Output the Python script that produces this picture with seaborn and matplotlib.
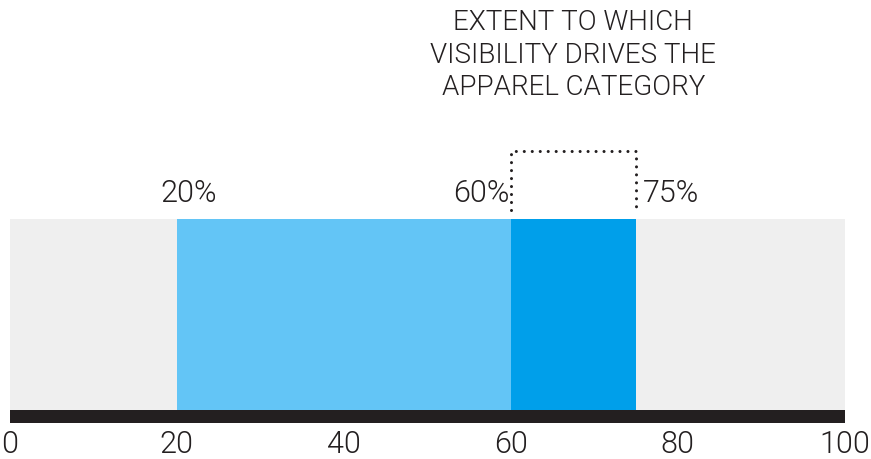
import matplotlib
matplotlib.use("Agg")
import matplotlib.pyplot as plt
import seaborn as sns
import pandas as pd

# values
category = ["Apparel"]
low_pct = [20]
mid_pct = [60]
high_pct = [75]
full_scale = [100]
tick_values = [0, 20, 40, 60, 80, 100]
title_lines = ["EXTENT TO WHICH", "VISIBILITY DRIVES THE", "APPAREL CATEGORY"]

GRAY = "#efefef"
LIGHT_BLUE = "#63c5f6"
DARK_BLUE = "#009fea"
INK = "#231f20"

sns.set_style("white")
plt.rcParams["font.family"] = ["Roboto", "DejaVu Sans"]
plt.rcParams["font.weight"] = 300

fig = plt.figure(figsize=(8.71, 4.59), dpi=100)
ax = fig.add_axes([9.7 / 871, 36 / 459, 835 / 871, 204 / 459])

# stacked look by layering bars that all start at 0
layers = [(full_scale, GRAY), (high_pct, DARK_BLUE), (mid_pct, LIGHT_BLUE), (low_pct, GRAY)]
for vals, col in layers:
    df = pd.DataFrame({"cat": category, "val": vals})
    sns.barplot(data=df, x="val", y="cat", orient="h", color=col, saturation=1,
                width=1, linewidth=0, edgecolor="none", ax=ax)

# bar is 191 px tall (1 data unit), black baseline below it
ax.set_xlim(0, 100)
ax.set_ylim(0.5 + 13 / 191, -0.5)
ax.axhspan(0.5, 0.5 + 13 / 191, color=INK, lw=0)


def ypx(p):
    # pixel row in the figure -> y data unit
    return -0.5 - (219 - p) / 191


ax.set_xticks(tick_values)
ax.set_xticklabels([str(v) for v in tick_values])
ax.tick_params(axis="x", length=0, pad=5, labelsize=22, labelcolor=INK)
ax.set_yticks([])
ax.set_xlabel("")
ax.set_ylabel("")
for s in ax.spines.values():
    s.set_visible(False)

# percentage labels
lab_kw = dict(fontsize=22, color=INK, va="center")
ax.text(low_pct[0] - 2.0, ypx(194), f"{low_pct[0]}%", ha="left", **lab_kw)
ax.text(mid_pct[0] - 0.1, ypx(194), f"{mid_pct[0]}%", ha="right", **lab_kw)
ax.text(high_pct[0] + 0.8, ypx(194), f"{high_pct[0]}%", ha="left", **lab_kw)

# dotted bracket over the 60-75 band
ax.plot([mid_pct[0], mid_pct[0], high_pct[0], high_pct[0]],
        [ypx(210), ypx(151), ypx(151), ypx(210)],
        color=INK, lw=2.2, linestyle=(0, (0.01, 2.6)), dash_capstyle="round",
        clip_on=False)

ax.text((mid_pct[0] + high_pct[0]) / 2, ypx(55), "\n".join(title_lines),
        ha="center", va="center", fontsize=20, color=INK, linespacing=1.27)

fig.savefig("out.png", dpi=100)
